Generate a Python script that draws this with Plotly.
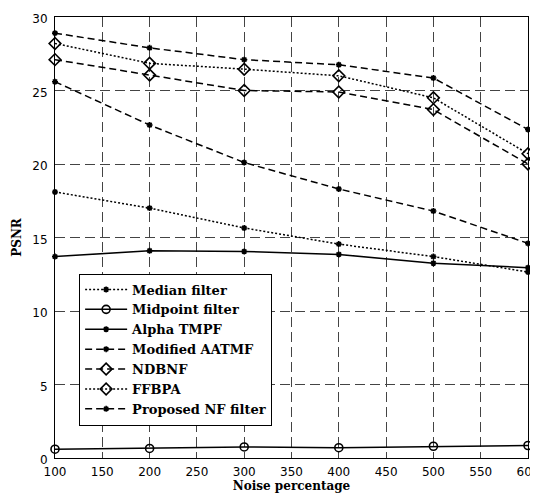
import plotly.graph_objects as go

noise = [100, 200, 300, 400, 500, 600]
x_ticks = [100, 150, 200, 250, 300, 350, 400, 450, 500, 550, 600]
y_ticks = [0, 5, 10, 15, 20, 25, 30]
median_filter = [18.1, 17.0, 15.65, 14.55, 13.7, 12.65]
midpoint_filter = [0.6, 0.65, 0.75, 0.7, 0.8, 0.85]
alpha_tmpf = [13.7, 14.1, 14.05, 13.85, 13.25, 12.95]
modified_aatmf = [25.6, 22.65, 20.1, 18.3, 16.8, 14.6]
ndbnf = [27.1, 26.05, 25.0, 24.9, 23.7, 20.0]
ffbpa = [28.2, 26.85, 26.45, 26.0, 24.5, 20.7]
proposed_nf = [28.9, 27.9, 27.1, 26.75, 25.85, 22.35]

series = [
    ("Median filter", median_filter, "2px,2px", "asterisk-open", 5),
    ("Midpoint filter", midpoint_filter, "solid", "circle-open", 8),
    ("Alpha TMPF", alpha_tmpf, "solid", "asterisk-open", 5),
    ("Modified AATMF", modified_aatmf, "7px,4px", "asterisk-open", 5),
    ("NDBNF", ndbnf, "7px,4px", "diamond-open", 9),
    ("FFBPA", ffbpa, "2px,2px", "diamond-open", 9),
    ("Proposed NF filter", proposed_nf, "7px,4px", "asterisk-open", 5),
]

fig = go.Figure()
for name, vals, dash, sym, size in series:
    fig.add_trace(go.Scatter(
        x=noise, y=vals, name=name, mode="lines+markers",
        line=dict(color="black", width=1.5, dash=dash),
        marker=dict(symbol=sym, size=size, color="black",
                    line=dict(color="black", width=1.6)),
        cliponaxis=False,
    ))

axis_common = dict(
    showline=True, linecolor="black", linewidth=1, mirror=True,
    showgrid=True, gridcolor="#444444", griddash="10px,5px", gridwidth=1,
    zeroline=False, ticks="", automargin=False, tickmode="array",
    ticklabeloverflow="allow",
    tickfont=dict(family="DejaVu Sans", size=12, color="black"),
)

# page body has an 8px margin, so the figure is offset by 8px
fig.update_layout(
    width=530, height=485,
    margin=dict(l=47, r=10, t=9, b=35),
    paper_bgcolor="white", plot_bgcolor="white",
    xaxis=dict(range=[100, 600], tickvals=x_ticks,
               ticktext=[str(v) for v in x_ticks],
               ticklabelstandoff=3,
               title=dict(text="<b>Noise percentage</b>", standoff=2,
                          font=dict(family="DejaVu Serif", size=12, color="black")),
               **axis_common),
    yaxis=dict(range=[0, 30], tickvals=y_ticks,
               ticktext=[str(v) for v in y_ticks],
               ticklabelstandoff=4, ticklabelshift=2,
               title=dict(text="<b>PSNR</b>", standoff=8,
                          font=dict(family="DejaVu Serif", size=12, color="black")),
               **axis_common),
    legend=dict(x=0.051, y=0.246, xanchor="left", yanchor="middle",
                bgcolor="white", bordercolor="black", borderwidth=1,
                itemwidth=42,
                font=dict(family="DejaVu Serif", size=13, color="black", weight="bold"),
                tracegroupgap=0, itemsizing="trace"),
    showlegend=True,
)

fig.write_html("out.html")
